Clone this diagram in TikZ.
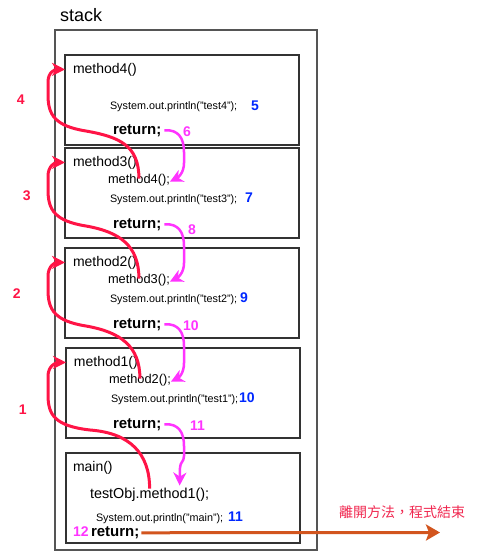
\documentclass[tikz,border=0pt]{standalone}
\usepackage{fontspec}
\setmainfont{Liberation Sans}
\newfontfamily\cjkfont{Noto Sans CJK TC}
\usetikzlibrary{arrows.meta,calc}
\definecolor{redc}{RGB}{255,20,70}
\definecolor{magc}{RGB}{255,51,255}
\definecolor{bluec}{RGB}{0,40,255}
\definecolor{orac}{RGB}{210,85,30}
\definecolor{boxc}{RGB}{51,51,51}
\definecolor{outc}{RGB}{85,85,85}
\definecolor{cjkc}{RGB}{240,40,80}
\begin{document}
\begin{tikzpicture}[x=1pt,y=-1pt,
  every node/.style={inner sep=0pt, outer sep=0pt},
  frame/.style={draw=boxc, line width=1.2pt},
  outerbox/.style={draw=outc, line width=1.3pt},
  head/.style={anchor=base west, font=\fontsize{14}{16}\selectfont},
  call/.style={anchor=base west, font=\fontsize{12.8}{15}\selectfont},
  prt/.style={anchor=base west, font=\fontsize{10.8}{12}\selectfont},
  ret/.style={anchor=base west, font=\bfseries\fontsize{15}{17}\selectfont},
  num/.style={anchor=base west, font=\bfseries\fontsize{14}{16}\selectfont},
  rednum/.style={font=\bfseries\fontsize{14}{16}\selectfont, text=redc},
  callarrow/.style={draw=redc, line width=3pt, -{Stealth[length=13pt,width=13pt,inset=4pt]}},
  retarrow/.style={draw=magc, line width=2.5pt, -{Stealth[length=13pt,width=13pt,inset=4pt]}},
  exitarrow/.style={draw=orac, line width=3pt, -{Stealth[length=14pt,width=16pt,inset=3pt]}},
]
\useasboundingbox (0,0) rectangle (484,558);

% boxes
\node[outerbox, minimum width=262pt, minimum height=520pt] (stackbox) at (186,290) {};
\node[frame, minimum width=234pt, minimum height=90pt] (box4) at (182,100) {};
\node[frame, minimum width=234pt, minimum height=90pt] (box3) at (182,193) {};
\node[frame, minimum width=234pt, minimum height=90pt] (box2) at (182,293) {};
\node[frame, minimum width=234pt, minimum height=90pt] (box1) at (183,393) {};
\node[frame, minimum width=234pt, minimum height=90pt] (boxm) at (183,498) {};

\node[anchor=base west, font=\fontsize{18}{20}\selectfont] (stk) at (60,21) {stack};

% method4 box
\node[head] (h4) at (73,73) {method4()};
\node[prt] (p4) at (110,109) {System.out.println("test4");};
\node[num, text=bluec] (n5) at (251,110) {5};
\node[ret] (r4) at (113,134) {return;};
\node[num, text=magc] (n6) at (183,136) {6};

% method3 box
\node[head] (h3) at (73,166) {method3()};
\node[call] (c4) at (108,183) {method4();};
\node[prt] (p3) at (110,202.5) {System.out.println("test3");};
\node[num, text=bluec] (n7) at (245,202.5) {7};
\node[ret] (r3) at (113,228) {return;};
\node[num, text=magc] (n8) at (188,234) {8};

% method2 box
\node[head] (h2) at (73,266) {method2()};
\node[call] (c3) at (108,283) {method3();};
\node[prt] (p2) at (110,302.5) {System.out.println("test2");};
\node[num, text=bluec] (n9) at (240,302.5) {9};
\node[ret] (r2) at (113,328) {return;};
\node[num, text=magc] (n10a) at (183,330) {10};

% method1 box
\node[head] (h1) at (74,366) {method1()};
\node[call] (c2) at (109,383) {method2();};
\node[prt] (p1) at (111,402.5) {System.out.println("test1");};
\node[num, text=bluec] (n10b) at (239,402.5) {10};
\node[ret] (r1) at (113,428) {return;};
\node[num, text=magc] (n11a) at (190,430) {11};

% main box
\node[head] (hm) at (73,471) {main()};
\node[anchor=base west, font=\fontsize{14.4}{16}\selectfont] (cm) at (90,498) {testObj.method1();};
\node[prt] (pm) at (96,521.5) {System.out.println("main");};
\node[num, text=bluec] (n11b) at (228,521.5) {11};
\node[num, text=magc] (n12) at (73,536.5) {12};
\node[ret] (rm) at (91,536.5) {return;};

% red step labels
\node[rednum] (l4) at (20.7,99.5) {4};
\node[rednum] (l3) at (26.7,195.5) {3};
\node[rednum] (l2) at (16.7,293.5) {2};
\node[rednum] (l1) at (22.7,410) {1};

\node[anchor=west, text=cjkc, font=\cjkfont\fontsize{14}{16}\selectfont] (exitlbl) at (339,512) {離開方法，程式結束};
\coordinate (exit) at (440,532.5);

% call arrows (red)
\draw[callarrow] ($(c4.center)+(0,-1)$) .. controls +(0,-33) and +(34,6) .. (86,131)
  .. controls +(-31,-5) and +(0,20) .. (48,95) -- (48,82)
  .. controls +(0,-10) and +(-10,0) .. (box4.west |- h4.west);
\draw[callarrow] ($(c3.center)+(0,-1)$) .. controls +(0,-33) and +(34,6) .. (86,226)
  .. controls +(-31,-5) and +(0,20) .. (48,190) -- (48,176)
  .. controls +(0,-10) and +(-10,0) .. (box3.west |- h3.west);
\draw[callarrow] ($(c2.center)+(0,-1)$) .. controls +(0,-33) and +(34,6) .. (86,326)
  .. controls +(-31,-5) and +(0,20) .. (48,290) -- (48,276)
  .. controls +(0,-10) and +(-10,0) .. (box2.west |- h2.west);
\draw[callarrow] ($(cm.north)+(0,1)$) .. controls +(0,-35) and +(40,3) .. (90,430)
  .. controls +(-35,-4) and +(0,20) .. (48,395) -- (48,376)
  .. controls +(0,-10) and +(-10,0) .. (box1.west |- h1.west);

% return arrows (magenta)
\draw[retarrow] ($(r4.east)+(3,0)$) .. controls +(14,-1) and +(0,-14) .. (184,152) -- (184,163)
  .. controls +(0,10) and +(8,-4) .. ($(c4.east)+(0,2)$);
\draw[retarrow] ($(r3.east)+(3,0)$) .. controls +(14,-1) and +(0,-14) .. (184,246) -- (184,263)
  .. controls +(0,10) and +(8,-4) .. ($(c3.east)+(0,2)$);
\draw[retarrow] ($(r2.east)+(3,0)$) .. controls +(14,-1) and +(0,-14) .. (184,346) -- (184,363)
  .. controls +(0,10) and +(8,-4) .. ($(c2.east)+(0,2)$);
\draw[retarrow] ($(r1.east)+(3,0)$) .. controls +(14,-1) and +(0,-14) .. (184,446) -- (184,456)
  .. controls +(0,6) and +(0,-6) .. (180,468) -- ($(cm.north)+(30,-2)$);

% exit arrow
\draw[exitarrow] ($(rm.east)+(2,0)$) -- (exit);
\end{tikzpicture}
\end{document}
